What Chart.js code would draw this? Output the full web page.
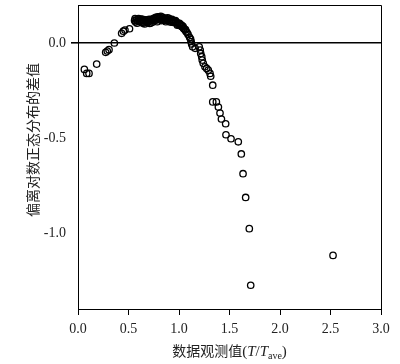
<!DOCTYPE html>
<html>
<head>
<meta charset="utf-8">
<script src="https://cdn.jsdelivr.net/npm/chart.js@4"></script>
<style>
  html, body { margin: 0; padding: 0; background: #fff; }
  #wrap { width: 400px; height: 364px; position: relative; }
</style>
</head>
<body>
<div id="wrap"><canvas id="chart"></canvas></div>
<script>
// observed value T/Tave
const xValues = [
  0.063, 0.086, 0.109, 0.185, 0.274, 0.290, 0.307, 0.360, 0.432, 0.449, 0.465, 0.510,
  0.56, 0.57, 0.58, 0.59, 0.60, 0.61, 0.62, 0.63, 0.64, 0.65, 0.66, 0.67, 0.68, 0.69,
  0.70, 0.71, 0.72, 0.73, 0.74, 0.75, 0.76, 0.77, 0.78, 0.79, 0.80, 0.81, 0.82, 0.83,
  0.84, 0.85, 0.86, 0.87, 0.88, 0.89, 0.90, 0.91, 0.92, 0.93, 0.94, 0.95, 0.96, 0.97,
  0.98, 0.99, 1.00, 1.01, 1.02, 1.03, 1.04, 1.05, 1.06, 1.07, 1.08, 1.09,
  0.565, 0.585, 0.605, 0.625, 0.645, 0.665, 0.685, 0.705, 0.725, 0.745, 0.765, 0.785,
  0.805, 0.825, 0.845, 0.865, 0.885, 0.905, 0.925, 0.945, 0.965, 0.985, 1.005, 1.025, 1.045, 1.065,
  1.105, 1.115, 1.12, 1.125, 1.135, 1.16, 1.20, 1.21, 1.215, 1.225, 1.23, 1.24,
  1.257, 1.274, 1.29, 1.307, 1.314, 1.334, 1.334, 1.37, 1.39, 1.406, 1.42, 1.462,
  1.465, 1.515, 1.587, 1.617, 1.634, 1.66, 1.696, 1.71, 2.525
];
// deviation from log-normal distribution
const yValues = [
  -0.139, -0.160, -0.160, -0.111, -0.049, -0.042, -0.035, 0.000, 0.051, 0.062, 0.068, 0.075,
  0.118, 0.110, 0.122, 0.115, 0.128, 0.112, 0.120, 0.108, 0.125, 0.112, 0.100, 0.118, 0.108, 0.122,
  0.112, 0.103, 0.118, 0.125, 0.110, 0.130, 0.118, 0.135, 0.122, 0.138, 0.128, 0.133, 0.140, 0.125,
  0.135, 0.118, 0.128, 0.112, 0.125, 0.118, 0.130, 0.120, 0.110, 0.124, 0.115, 0.118, 0.108, 0.112,
  0.100, 0.105, 0.095, 0.098, 0.090, 0.085, 0.088, 0.075, 0.068, 0.060, 0.055, 0.045,
  0.128, 0.104, 0.118, 0.126, 0.104, 0.122, 0.114, 0.124, 0.106, 0.120, 0.128, 0.112,
  0.138, 0.118, 0.126, 0.120, 0.132, 0.112, 0.118, 0.108, 0.118, 0.094, 0.104, 0.094, 0.078, 0.070,
  0.030, 0.020, 0.008, -0.005, -0.020, -0.028, -0.020, -0.037, -0.055, -0.072, -0.090, -0.107,
  -0.125, -0.134, -0.143, -0.160, -0.175, -0.222, -0.310, -0.310, -0.337, -0.369, -0.400, -0.425,
  -0.483, -0.504, -0.520, -0.584, -0.688, -0.813, -0.977, -1.275, -1.118
];
const xTicks = [0, 0.5, 1.0, 1.5, 2.0, 2.5, 3.0];
const yTicks = [-1.0, -0.5, 0.0];

const points = xValues.map((x, i) => ({ x: x, y: yValues[i] }));
const serif = '"Liberation Serif", "Times New Roman", serif';
const cjk = '"Noto Sans CJK SC", sans-serif';

// frame + axis titles
const framePlugin = {
  id: 'frame',
  afterDraw(chart) {
    const ctx = chart.ctx;
    const a = chart.chartArea;
    ctx.save();
    ctx.strokeStyle = '#000';
    ctx.lineWidth = 1;
    ctx.beginPath();
    ctx.moveTo(a.left, a.top + 0.5);
    ctx.lineTo(a.right + 0.5, a.top + 0.5);
    ctx.lineTo(a.right + 0.5, a.bottom);
    ctx.stroke();

    // x title: 数据观测值(T/Tave)
    ctx.fillStyle = '#222';
    ctx.textBaseline = 'alphabetic';
    const parts = [
      { t: '数据观测值', f: '14px ' + cjk, dy: 0 },
      { t: '(', f: '15px ' + serif, dy: 0 },
      { t: 'T', f: 'italic 15px ' + serif, dy: 0 },
      { t: '/', f: '15px ' + serif, dy: 0 },
      { t: 'T', f: 'italic 15px ' + serif, dy: 0 },
      { t: 'ave', f: '10px ' + serif, dy: 3 },
      { t: ')', f: '15px ' + serif, dy: 0 }
    ];
    let total = 0;
    parts.forEach(p => { ctx.font = p.f; p.w = ctx.measureText(p.t).width; total += p.w; });
    let x = (a.left + a.right) / 2 - total / 2;
    const y = 356;
    parts.forEach(p => { ctx.font = p.f; ctx.fillText(p.t, x, y + p.dy); x += p.w; });

    // y title
    ctx.translate(33, 140);
    ctx.rotate(-Math.PI / 2);
    ctx.font = '14px ' + cjk;
    ctx.textAlign = 'center';
    ctx.textBaseline = 'middle';
    ctx.fillText('偏离对数正态分布的差值', 0, 0);
    ctx.restore();
  }
};

new Chart(document.getElementById('chart'), {
  type: 'scatter',
  data: {
    datasets: [{
      data: points,
      pointStyle: 'circle',
      pointRadius: 3.2,
      pointHoverRadius: 3.2,
      borderColor: '#000',
      backgroundColor: 'rgba(255,255,255,0)',
      borderWidth: 1.3
    }]
  },
  options: {
    responsive: true,
    maintainAspectRatio: false,
    animation: false,
    layout: { padding: { top: 5, right: 19, left: 0, bottom: 0 } },
    plugins: { legend: { display: false }, tooltip: { enabled: false } },
    scales: {
      x: {
        type: 'linear',
        min: 0, max: 3,
        afterBuildTicks: s => { s.ticks = xTicks.map(v => ({ value: v })); },
        afterFit: s => { s.height = 55; s.paddingLeft = 0; s.paddingRight = 0; },
        border: { display: true, color: '#000', width: 1 },
        grid: { drawOnChartArea: false, drawTicks: true, tickLength: 6, tickColor: '#000' },
        ticks: {
          color: '#222', padding: 6,
          font: { family: serif, size: 14 },
          callback: v => Number(v).toFixed(1)
        }
      },
      y: {
        type: 'linear',
        min: -1.4, max: 0.2,
        afterBuildTicks: s => { s.ticks = yTicks.map(v => ({ value: v })); },
        afterFit: s => { s.width = 78; s.paddingTop = 0; s.paddingBottom = 0; },
        border: { display: true, color: '#000', width: 1 },
        grid: {
          drawOnChartArea: true, drawTicks: true, tickLength: 7, tickColor: '#000',
          color: c => (c.tick && c.tick.value === 0 ? '#000' : 'rgba(0,0,0,0)'),
          lineWidth: c => (c.tick && c.tick.value === 0 ? 1.6 : 0)
        },
        ticks: {
          color: '#222', padding: 5,
          font: { family: serif, size: 14 },
          callback: v => Number(v).toFixed(1)
        }
      }
    }
  },
  plugins: [framePlugin]
});
</script>
</body>
</html>
